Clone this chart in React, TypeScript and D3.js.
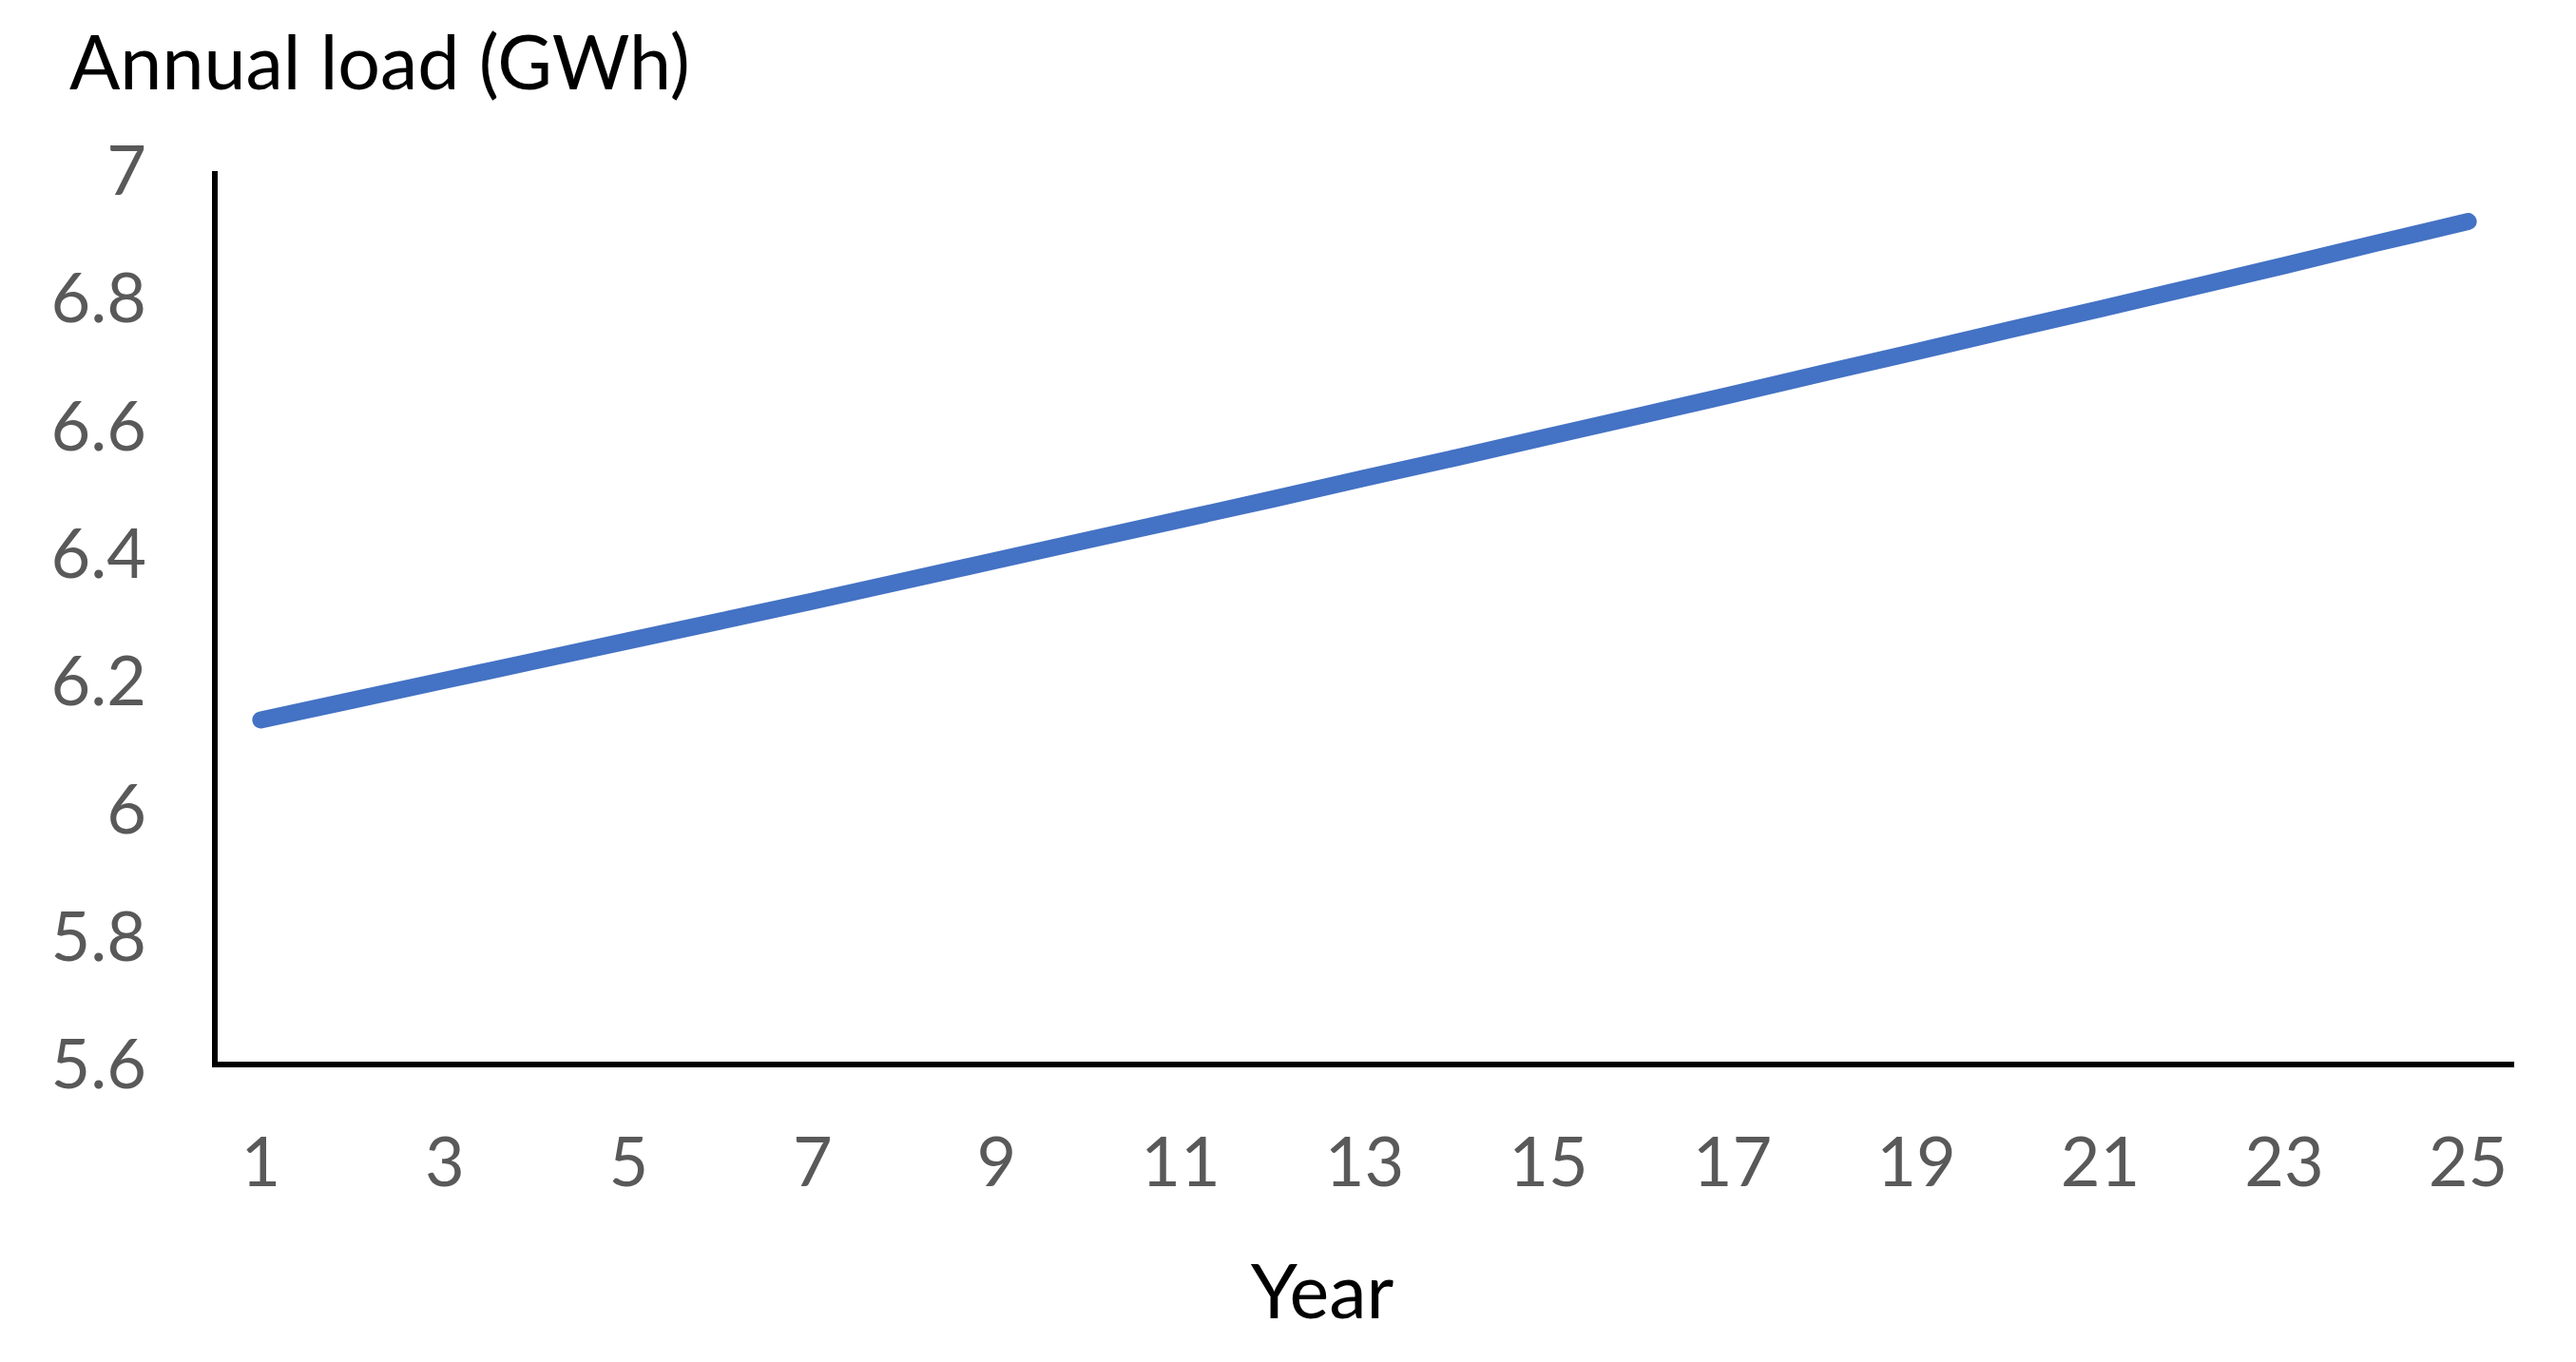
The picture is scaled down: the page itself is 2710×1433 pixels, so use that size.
import React from "react";
import * as d3 from "d3";

const years = d3.range(1, 26);
const load = [6.14, 6.171, 6.202, 6.233, 6.264, 6.295, 6.326, 6.358, 6.39, 6.422, 6.454, 6.486, 6.519, 6.551, 6.584, 6.617, 6.65, 6.684, 6.717, 6.751, 6.784, 6.818, 6.852, 6.887, 6.921];
const yTicks = [5.6, 5.8, 6, 6.2, 6.4, 6.6, 6.8, 7];
const xTickYears = [1, 3, 5, 7, 9, 11, 13, 15, 17, 19, 21, 23, 25];

const W = 2710, H = 1433;
const left = 226, right = 2645, top = 180, bottom = 1120;
const font = "Lato, 'Open Sans', sans-serif";

export default function App() {
  const x = d3.scaleBand<number>().domain(years).range([left, right]);
  const y = d3.scaleLinear().domain([5.6, 7]).range([bottom, top]);
  const line = d3.line<number>().x((_, i) => x(years[i])! + x.bandwidth() / 2).y(d => y(d));
  return (
    <svg width={W} height={H} style={{ position: "absolute", left: 0, top: 0, background: "#fff" }}>
      <text x={73} y={94} fontFamily={font} fontSize={79} fill="#000">Annual load (GWh)</text>
      {yTicks.map(t => (
        <text key={t} x={154} y={y(t)} dy="0.35em" textAnchor="end" fontFamily={font} fontSize={72} fill="#595959">{d3.format("~g")(t)}</text>
      ))}
      {xTickYears.map(t => (
        <text key={t} x={x(t)! + x.bandwidth() / 2} y={1248} textAnchor="middle" fontFamily={font} fontSize={72} fill="#595959">{t}</text>
      ))}
      <text x={1391} y={1387} textAnchor="middle" fontFamily={font} fontSize={79} fill="#000">Year</text>
      <path d={line(load)!} fill="none" stroke="#4472C4" strokeWidth={18} strokeLinecap="round" strokeLinejoin="round" />
      <line x1={left} x2={left} y1={top} y2={bottom + 3} stroke="#000" strokeWidth={6} />
      <line x1={left - 3} x2={right} y1={bottom} y2={bottom} stroke="#000" strokeWidth={6} />
    </svg>
  );
}
